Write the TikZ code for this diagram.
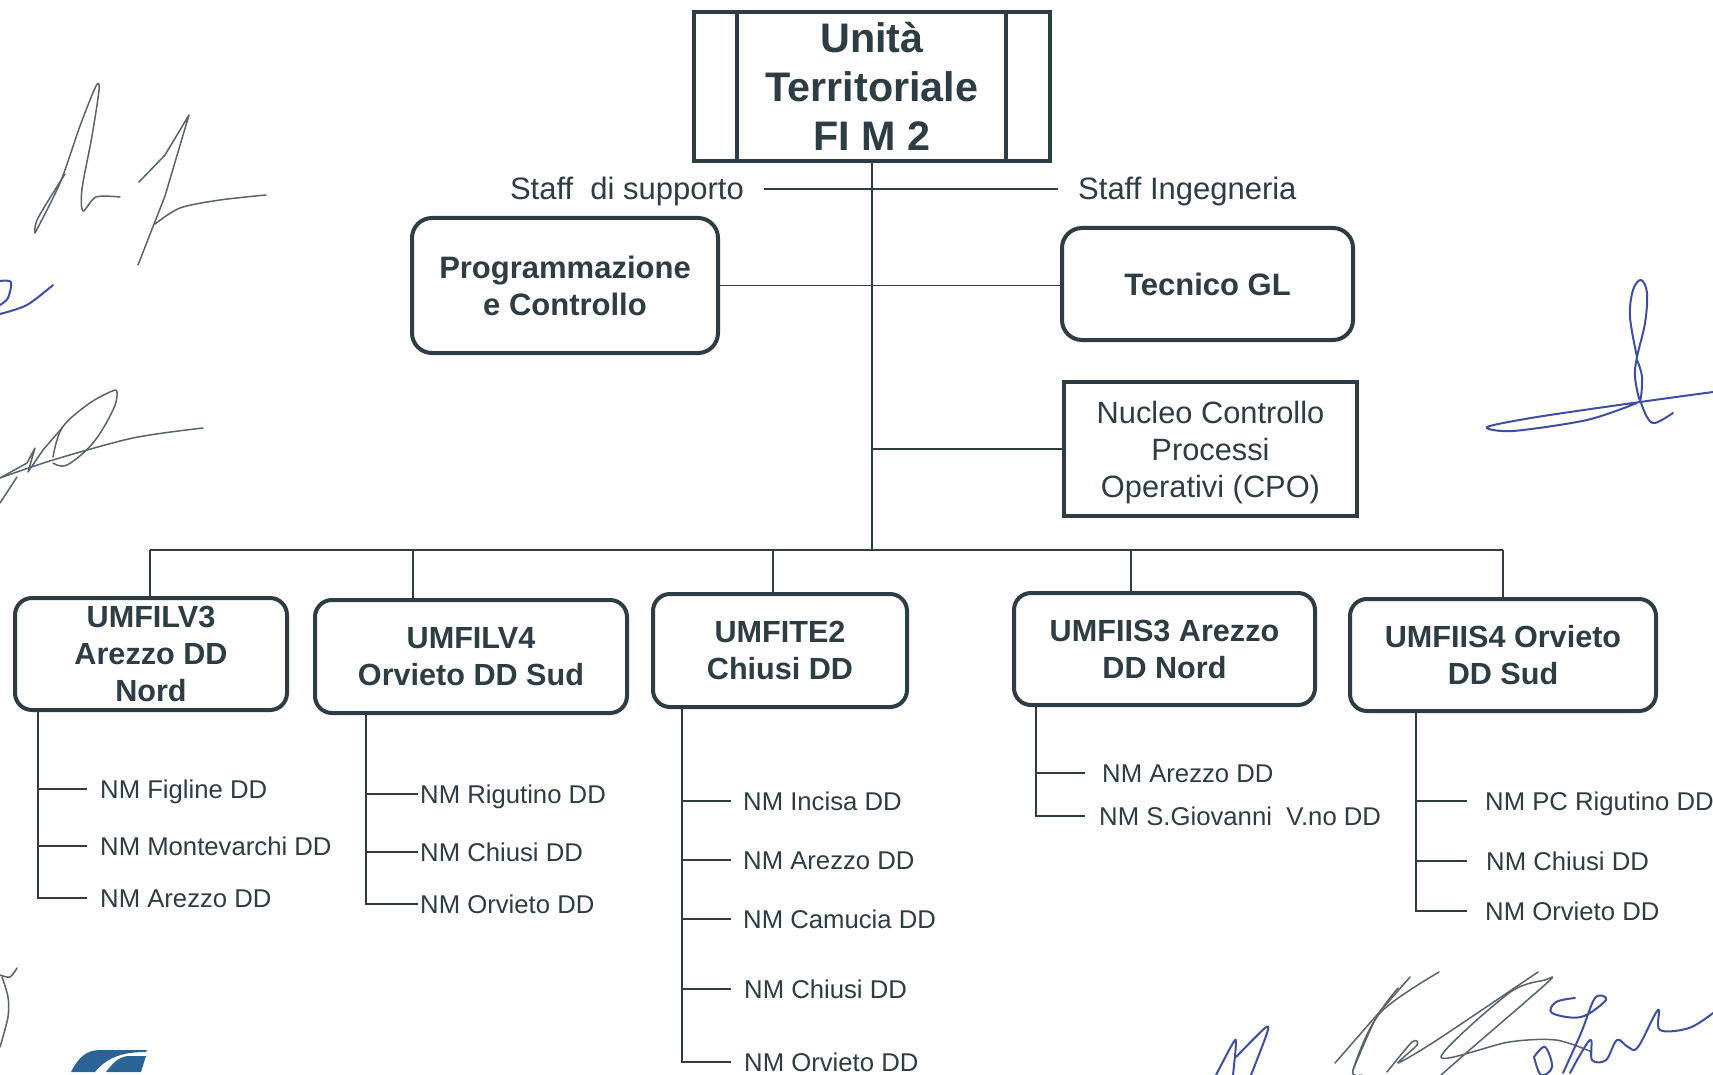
\documentclass[tikz,border=0pt]{standalone}
\usepackage{fontspec}
\setmainfont{Liberation Sans}
\usetikzlibrary{positioning}
\definecolor{inkdark}{HTML}{2E3C44}
\definecolor{signgray}{HTML}{59636B}
\definecolor{signblue}{HTML}{3F4FA0}
\definecolor{logoblue}{HTML}{2A6496}

\begin{document}
\begin{tikzpicture}[
        x=1pt, y=-1pt,
        every node/.style={text=inkdark},
        top/.style={draw=inkdark, line width=4pt, minimum width=356pt, minimum height=149pt, align=center, font=\fontsize{41.3}{49}\selectfont\bfseries},
        staff/.style={draw=inkdark, line width=4pt, rounded corners=20pt, align=center, font=\fontsize{31}{37}\selectfont\bfseries},
        unit/.style={draw=inkdark, line width=4pt, rounded corners=17pt, align=center, font=\fontsize{30.6}{37}\selectfont\bfseries},
        nucleo/.style={draw=inkdark, line width=4pt, minimum width=293pt, minimum height=134pt, align=center, font=\fontsize{30.8}{37}\selectfont},
        head/.style={font=\fontsize{31}{36}\selectfont, text height=22pt, text depth=0pt, inner sep=20pt},
        leaf/.style={anchor=west, font=\fontsize{25.7}{30}\selectfont, text height=18pt, text depth=0pt, inner ysep=6pt},
        link/.style={draw=inkdark, line width=1.6pt},
        bus/.style={draw=inkdark, line width=2.4pt},
        signg/.style={draw=signgray, line width=1.5pt, line cap=round, line join=round},
        signb/.style={draw=signblue, line width=2pt, line cap=round, line join=round}
    ]
        \useasboundingbox (0,0) rectangle (1713,1075);
        \fill[white] (0,0) rectangle (1713,1075);

        % top of the chart
        \node[top] (UT) at (872,86.5) {Unità\\Territoriale\\FI M 2};
        \draw[bus, line width=4pt] ([xshift=44.5pt]UT.north west) -- ([xshift=44.5pt]UT.south west);
        \draw[bus, line width=4pt] ([xshift=-46pt]UT.north east) -- ([xshift=-46pt]UT.south east);
        \node[head, anchor=east] (SuppLbl) at (764,189) {Staff\ \ di supporto};
        \node[head, anchor=west] (IngLbl) at (1058,189) {Staff Ingegneria};
        \node[staff, minimum width=306pt, minimum height=135pt] (Prog) at (565,285.5) {Programmazione\\e Controllo};
        \node[staff, minimum width=291pt, minimum height=112pt] (Tecn) at (1207.5,284) {Tecnico GL};
        \node[nucleo] (CPO) at (1210.5,449) {\rule{0pt}{30pt}Nucleo Controllo\\Processi\\Operativi (CPO)};

        % units
        \node[unit, minimum width=272pt, minimum height=112pt] (UA) at (151,654) {UMFILV3\\Arezzo DD\\Nord};
        \node[unit, minimum width=312pt, minimum height=113pt] (UB) at (471,656.5) {UMFILV4\\Orvieto DD Sud};
        \node[unit, minimum width=254pt, minimum height=113pt] (UC) at (780,650.5) {UMFITE2\\Chiusi DD};
        \node[unit, minimum width=301pt, minimum height=112pt] (UD) at (1164.5,649) {UMFIIS3 Arezzo\\DD Nord};
        \node[unit, minimum width=306pt, minimum height=112pt] (UE) at (1503,655) {UMFIIS4 Orvieto\\DD Sud};

        \coordinate (Stem) at (872,550);
        \coordinate (BusA) at (150,550);
        \coordinate (BusB) at (413,550);
        \coordinate (BusC) at (773,550);
        \coordinate (BusD) at (1131,550);
        \coordinate (BusE) at (1503,550);

        \draw[link] (UT) -- (Stem);
        \draw[bus] (SuppLbl) -- (IngLbl);
        \draw[link] (Prog) -- (Tecn.west |- Prog);
        \draw[link] (CPO.west) -- (CPO.west -| Stem);
        \draw[bus] (BusA) -- (BusE);
        \draw[link] (BusA) -- (BusA |- UA.north);
        \draw[link] (BusB) -- (BusB |- UB.north);
        \draw[link] (BusC) -- (BusC |- UC.north);
        \draw[link] (BusD) -- (BusD |- UD.north);
        \draw[link] (BusE) -- (BusE |- UE.north);

        % first column
        \coordinate (TrunkA) at (38,710);
        \node[leaf, inner xsep=13pt] (A1) at (87,789) {NM Figline DD};
        \node[leaf, inner xsep=13pt] (A2) at (87,846) {NM Montevarchi DD};
        \node[leaf, inner xsep=13pt] (A3) at (87,898) {NM Arezzo DD};
        \draw[link] (TrunkA) |- (A3);
        \draw[link] (TrunkA |- A1) -- (A1);
        \draw[link] (TrunkA |- A2) -- (A2);

        % second column
        \coordinate (TrunkB) at (366,713);
        \node[leaf, inner xsep=2pt] (B1) at (418,794) {NM Rigutino DD};
        \node[leaf, inner xsep=2pt] (B2) at (418,852) {NM Chiusi DD};
        \node[leaf, inner xsep=2pt] (B3) at (418,904) {NM Orvieto DD};
        \draw[link] (TrunkB) |- (B3);
        \draw[link] (TrunkB |- B1) -- (B1);
        \draw[link] (TrunkB |- B2) -- (B2);

        % third column
        \coordinate (TrunkC) at (682,707);
        \node[leaf, inner xsep=12pt] (C1) at (731,801) {NM Incisa DD};
        \node[leaf, inner xsep=12pt] (C2) at (731,860) {NM Arezzo DD};
        \node[leaf, inner xsep=12pt] (C3) at (731,919) {NM Camucia DD};
        \node[leaf, inner xsep=13pt] (C4) at (731,989) {NM Chiusi DD};
        \node[leaf, inner xsep=13pt] (C5) at (731,1062) {NM Orvieto DD};
        \draw[link] (TrunkC) |- (C5);
        \draw[link] (TrunkC |- C1) -- (C1);
        \draw[link] (TrunkC |- C2) -- (C2);
        \draw[link] (TrunkC |- C3) -- (C3);
        \draw[link] (TrunkC |- C4) -- (C4);

        % fourth column
        \coordinate (TrunkD) at (1036,705);
        \node[leaf, inner xsep=17pt] (D1) at (1085,773) {NM Arezzo DD};
        \node[leaf, inner xsep=14pt] (D2) at (1085,816) {NM S.Giovanni\ \ V.no DD};
        \draw[link] (TrunkD) |- (D2);
        \draw[link] (TrunkD |- D1) -- (D1);

        % fifth column
        \coordinate (TrunkE) at (1416,711);
        \node[leaf, inner xsep=18pt] (E1) at (1467,801) {NM PC Rigutino DD};
        \node[leaf, inner xsep=19pt] (E2) at (1467,861) {NM Chiusi DD};
        \node[leaf, inner xsep=18pt] (E3) at (1467,911) {NM Orvieto DD};
        \draw[link] (TrunkE) |- (E3);
        \draw[link] (TrunkE |- E1) -- (E1);
        \draw[link] (TrunkE |- E2) -- (E2);

        % logo
        \fill[logoblue] (71,1072) .. controls (78,1058) and (86,1050) .. (100,1050) -- (147,1050) -- (146,1052) .. controls (125,1052) and (108,1056) .. (95,1072) -- cycle;
        \fill[logoblue] (106,1072) .. controls (112,1064) and (118,1057) .. (128,1056) -- (146,1056) -- (141,1072) -- cycle;

        % signatures
        \begin{scope}
            \clip (0,0) rectangle (1713,1075);
            \draw[signg] plot[smooth, tension=0.5] coordinates {(35,233) (60,183) (80,126) (96,86) (99,90) (92,136) (82,189) (83,211) (96,197) (120,197)};
            \draw[signg] plot[smooth, tension=0.5] coordinates {(35,233) (38,218) (65,174)};
            \draw[signg] (139,182) -- (165,155) -- (189,115) -- (165,196) -- (138,265);
            \draw[signg] plot[smooth] coordinates {(155,224) (180,208) (220,200) (266,195)};
            \draw[signb] plot[smooth] coordinates {(0,314) (27,305) (53,285)};
            \draw[signb] plot[smooth] coordinates {(0,281) (11,282) (8,298) (0,305)};
            \draw[signg] plot[smooth] coordinates {(203,428) (133,438) (53,460) (0,478)};
            \draw[signg] plot[smooth, tension=0.6] coordinates {(53,463) (67,465) (93,443) (113,410) (117,392) (110,392) (87,405) (62,428) (53,457)};
            \draw[signg] (62,428) -- (43,450) -- (28,472) -- (35,448) -- (27,463) -- (0,478);
            \draw[signg] (17,477) -- (0,503);
            \draw[signb] plot[smooth, tension=0.6] coordinates {(1637,357) (1630,317) (1633,290) (1641,280) (1647,293) (1645,323) (1637,357) (1635,377) (1640,400) (1642,377) (1637,360)};
            \draw[signb] plot[smooth, tension=0.6] coordinates {(1640,400) (1647,417) (1655,423) (1673,413)};
            \draw[signb] plot[smooth] coordinates {(1713,392) (1640,402) (1537,417) (1487,427) (1513,431) (1587,420) (1637,403)};
            \draw[signg] plot[smooth] coordinates {(0,975) (10,977) (17,968)};
            \draw[signg] plot[smooth] coordinates {(2,977) (8,997) (8,1017) (0,1047)};
            \draw[signb] plot[smooth, tension=0.5] coordinates {(1216,1075) (1233,1043) (1236,1043) (1233,1075)};
            \draw[signb] plot[smooth, tension=0.5] coordinates {(1236,1057) (1265,1028) (1267,1033) (1251,1075)};
            \draw[signg] (1335,1063) -- (1410,977);
            \draw[signg] plot[smooth, tension=0.5] coordinates {(1439,972) (1380,1013) (1353,1070) (1362,1075)};
            \draw[signg] plot[smooth, tension=0.5] coordinates {(1398,988) (1376,1018) (1353,1070)};
            \draw[signg] plot[smooth, tension=0.5] coordinates {(1387,1072) (1412,1042) (1417,1045) (1398,1063) (1437,1040) (1538,972)};
            \draw[signg] plot[smooth, tension=0.5] coordinates {(1441,1075) (1473,1047) (1548,982) (1545,980) (1509,993) (1441,1057) (1509,1042) (1556,1040) (1592,1052)};
            \draw[signb] plot[smooth, tension=0.6] coordinates {(1575,998) (1556,1002) (1552,1013) (1581,1017) (1606,1000) (1595,998) (1581,1033) (1563,1073)};
            \draw[signb] plot[smooth, tension=0.6] coordinates {(1534,1057) (1545,1047) (1552,1067) (1541,1075) (1534,1057)};
            \draw[signb] plot[smooth, tension=0.6] coordinates {(1570,1073) (1590,1040) (1592,1060) (1606,1060) (1617,1040) (1628,1047) (1638,1047) (1658,1010) (1660,1030) (1689,1028) (1713,1013)};
        \end{scope}
    \end{tikzpicture}
\end{document}
